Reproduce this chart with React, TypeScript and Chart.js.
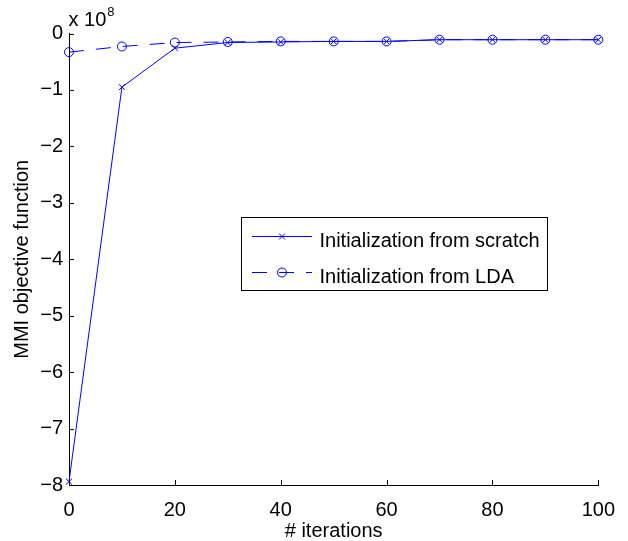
import React, { useEffect, useRef } from "react";
import { Chart, registerables } from "chart.js";

Chart.register(...registerables);

const iterations = [0, 10, 20, 30, 40, 50, 60, 70, 80, 90, 100];
const scratchValues = [-7.94e8, -0.95e8, -0.26e8, -0.16e8, -0.15e8, -0.14e8, -0.14e8, -0.11e8, -0.11e8, -0.11e8, -0.11e8];
const ldaValues = [-0.33e8, -0.23e8, -0.16e8, -0.15e8, -0.14e8, -0.14e8, -0.14e8, -0.11e8, -0.11e8, -0.11e8, -0.11e8];
const seriesLabels = ["Initialization from scratch", "Initialization from LDA"];
const xTicks = [0, 20, 40, 60, 80, 100];
const yTicks = [-8, -7, -6, -5, -4, -3, -2, -1, 0];
const yScaleFactor = 1e8;
const exponentBase = "x 10";
const exponentPower = "8";
const xTitle = "# iterations";
const yTitle = "MMI objective function";

const FONT = "'Liberation Sans', Arial, Helvetica, sans-serif";
const FS = 20;
const BLUE = "#0000ff";

const tickPlugin = {
  id: "inwardTicks",
  afterDraw(chart: any) {
    const ctx = chart.ctx;
    const xs = chart.scales.x;
    const ys = chart.scales.y;
    const { left, bottom } = chart.chartArea;
    ctx.save();
    ctx.strokeStyle = "#000";
    ctx.lineWidth = 1;
    ctx.beginPath();
    xs.ticks.forEach((t: any) => {
      const px = Math.round(xs.getPixelForValue(t.value)) + 0.5;
      ctx.moveTo(px, bottom);
      ctx.lineTo(px, bottom - 5);
    });
    ys.ticks.forEach((t: any) => {
      const py = Math.round(ys.getPixelForValue(t.value)) + 0.5;
      ctx.moveTo(left, py);
      ctx.lineTo(left + 5, py);
    });
    ctx.stroke();
    // exponent label
    ctx.fillStyle = "#000";
    ctx.textAlign = "left";
    ctx.textBaseline = "alphabetic";
    ctx.font = `${FS}px ${FONT}`;
    ctx.fillText(exponentBase, 68.5, 26);
    const w = ctx.measureText(exponentBase).width;
    ctx.font = `13px ${FONT}`;
    ctx.fillText(exponentPower, 68.5 + w + 1, 16);
    ctx.restore();
  },
};

const legendPlugin = {
  id: "boxLegend",
  afterDraw(chart: any) {
    const ctx = chart.ctx;
    const bx = 241.5, by = 217.5, bw = 306, bh = 73;
    ctx.save();
    ctx.fillStyle = "#fff";
    ctx.fillRect(bx, by, bw, bh);
    ctx.strokeStyle = "#000";
    ctx.lineWidth = 1;
    ctx.strokeRect(bx, by, bw, bh);
    const rows = [236, 272];
    chart.data.datasets.forEach((ds: any, i: number) => {
      const y = rows[i] + 0.5;
      ctx.strokeStyle = ds.borderColor;
      ctx.lineWidth = 1;
      ctx.setLineDash(ds.borderDash || []);
      ctx.beginPath();
      ctx.moveTo(252, y);
      ctx.lineTo(312, y);
      ctx.stroke();
      ctx.setLineDash([]);
      const mx = 282;
      ctx.beginPath();
      if (ds.pointStyle === "circle") {
        ctx.arc(mx, y, ds.pointRadius, 0, Math.PI * 2);
      } else {
        const o = ds.pointRadius * Math.cos(Math.PI / 4);
        ctx.moveTo(mx - o, y - o);
        ctx.lineTo(mx + o, y + o);
        ctx.moveTo(mx + o, y - o);
        ctx.lineTo(mx - o, y + o);
      }
      ctx.stroke();
      ctx.fillStyle = "#000";
      ctx.font = `${FS}px ${FONT}`;
      ctx.textAlign = "left";
      ctx.textBaseline = "alphabetic";
      ctx.fillText(ds.label, 319.5, rows[i] + 10.5);
    });
    ctx.restore();
  },
};

function fmtY(v: number) {
  const n = Math.round(v / yScaleFactor);
  return n === 0 ? "0" : (n < 0 ? "\u2212" : "") + Math.abs(n);
}

export default function App() {
  const ref = useRef<HTMLCanvasElement | null>(null);
  useEffect(() => {
    if (!ref.current) return;
    const chart = new Chart(ref.current, {
      type: "line",
      data: {
        datasets: [
          {
            label: seriesLabels[0],
            data: iterations.map((x, i) => ({ x, y: scratchValues[i] })),
            borderColor: BLUE,
            backgroundColor: BLUE,
            borderWidth: 1,
            pointStyle: "crossRot",
            pointRadius: 4.2,
            pointBorderColor: BLUE,
            pointBorderWidth: 1,
            pointBackgroundColor: "rgba(0,0,0,0)",
            tension: 0,
            clip: false,
          } as any,
          {
            label: seriesLabels[1],
            data: iterations.map((x, i) => ({ x, y: ldaValues[i] })),
            borderColor: BLUE,
            backgroundColor: BLUE,
            borderWidth: 1,
            borderDash: [15, 12],
            pointStyle: "circle",
            pointRadius: 4.5,
            pointBorderColor: BLUE,
            pointBorderWidth: 1,
            pointBackgroundColor: "rgba(0,0,0,0)",
            tension: 0,
            clip: false,
          } as any,
        ],
      },
      options: {
        responsive: false,
        animation: false,
        devicePixelRatio: 1,
        layout: { padding: { left: 0, top: 33.5, right: 29, bottom: 0 } },
        plugins: { legend: { display: false }, tooltip: { enabled: false } },
        scales: {
          x: {
            type: "linear",
            min: 0,
            max: 100,
            afterBuildTicks: (s: any) => {
              s.ticks = xTicks.map((v) => ({ value: v }));
            },
            afterFit: (s: any) => {
              s.height = 56;
            },
            grid: { display: false, drawTicks: false },
            border: { display: true, color: "#000", width: 1 },
            ticks: {
              color: "#000",
              padding: 13,
              font: { family: FONT, size: FS },
              maxRotation: 0,
              autoSkip: false,
            },
            title: {
              display: true,
              text: xTitle,
              color: "#000",
              font: { family: FONT, size: FS, lineHeight: 1 },
              padding: { top: 0, bottom: 0 },
            },
          },
          y: {
            type: "linear",
            min: -8 * yScaleFactor,
            max: 0,
            afterBuildTicks: (s: any) => {
              s.ticks = yTicks.map((v) => ({ value: v * yScaleFactor }));
            },
            afterFit: (s: any) => {
              s.width = 69;
            },
            grid: { display: false, drawTicks: false },
            border: { display: true, color: "#000", width: 1 },
            ticks: {
              color: "#000",
              padding: 6,
              font: { family: FONT, size: FS },
              autoSkip: false,
              callback: (v: any) => fmtY(Number(v)),
            },
            title: {
              display: true,
              text: yTitle,
              color: "#000",
              font: { family: FONT, size: FS, lineHeight: 1 },
              padding: { top: 12, bottom: 0 },
            },
          },
        },
      },
      plugins: [tickPlugin, legendPlugin],
    });
    return () => chart.destroy();
  }, []);
  return (
    <div style={{ position: "fixed", left: 0, top: 0, width: 628, height: 541, background: "#fff" }}>
      <canvas ref={ref} width={628} height={541} />
    </div>
  );
}
